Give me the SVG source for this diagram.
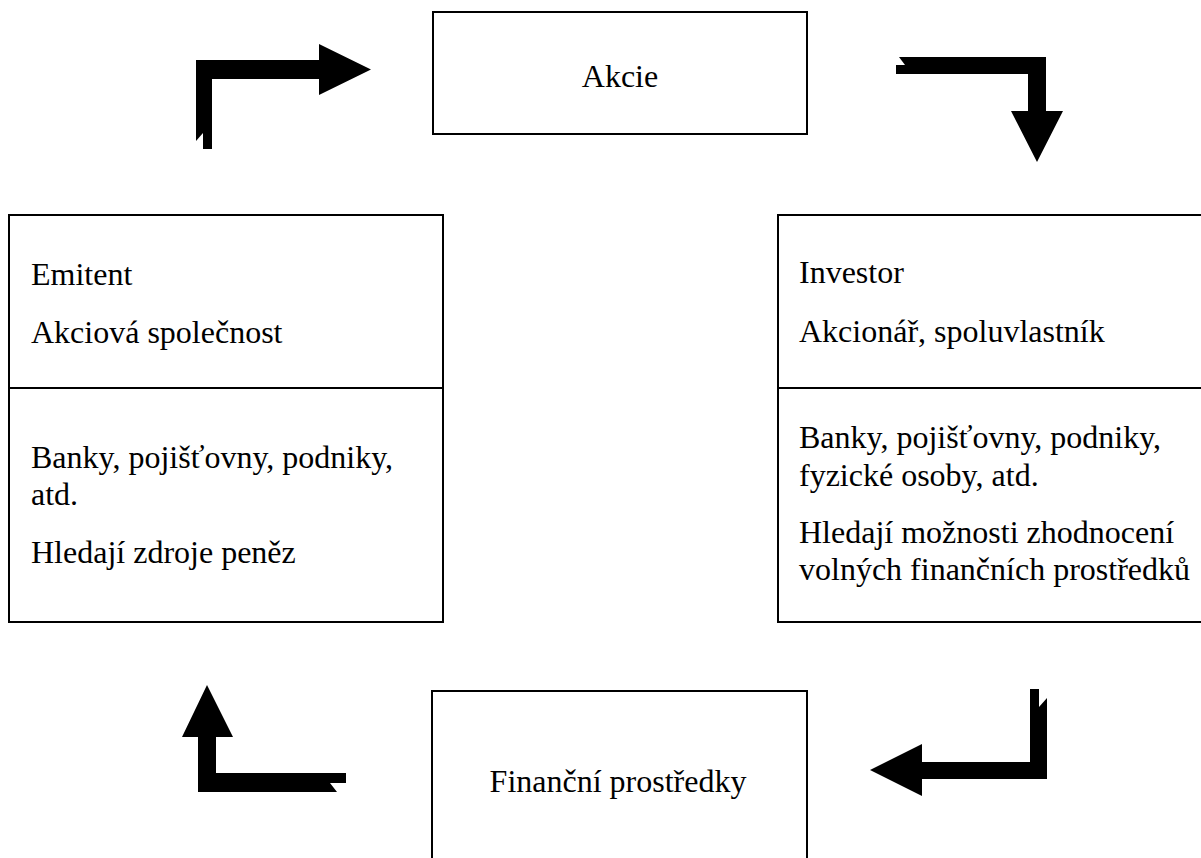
<svg xmlns="http://www.w3.org/2000/svg" width="1201" height="858" viewBox="0 0 1201 858">
<style>
.box{fill:#fff;stroke:#000;stroke-width:2}
.t{font-family:"Liberation Serif","Times New Roman",serif;font-size:32px;fill:#000}
.c{text-anchor:middle}
.arr{fill:#000;stroke:none}
</style>
<rect width="1201" height="858" fill="#fff"/>
<g id="akcie">
<rect class="box" x="433" y="12" width="374" height="122"/>
<text class="t c" x="620" y="87">Akcie</text>
</g>
<g id="emitent">
<rect class="box" x="9" y="215" width="434" height="407"/>
<line x1="9" y1="388" x2="443" y2="388" stroke="#000" stroke-width="2"/>
<text class="t" x="31" y="285">Emitent</text>
<text class="t" x="31" y="343">Akciová společnost</text>
<text class="t" x="31" y="468">Banky, pojišťovny, podniky,</text>
<text class="t" x="31" y="505">atd.</text>
<text class="t" x="31" y="563">Hledají zdroje peněz</text>
</g>
<g id="investor">
<rect class="box" x="778" y="215" width="440" height="407"/>
<line x1="778" y1="388" x2="1201" y2="388" stroke="#000" stroke-width="2"/>
<text class="t" x="799" y="283">Investor</text>
<text class="t" x="799" y="342">Akcionář, spoluvlastník</text>
<text class="t" x="799" y="448">Banky, pojišťovny, podniky,</text>
<text class="t" x="799" y="486">fyzické osoby, atd.</text>
<text class="t" x="799" y="543">Hledají možnosti zhodnocení</text>
<text class="t" x="799" y="580">volných finančních prostředků</text>
</g>
<g id="financni">
<rect class="box" x="432" y="691" width="375" height="190"/>
<text class="t c" x="618" y="792">Finanční prostředky</text>
</g>
<g id="connectors">
<polygon class="arr" points="196,60 319,60 319,44 371,69.5 319,95 319,79 212,79 212,149 203,149 203,133 196,141"/>
<polygon class="arr" points="896,65 905,65 899,57 1046,57 1046,111 1063,111 1037,162 1011,111 1028,111 1028,74 896,74"/>
<polygon class="arr" points="1030,689 1039,689 1039,707 1047,698 1047,779 922,779 922,796 870,770 922,744 922,762 1030,762"/>
<polygon class="arr" points="346,773 346,783 330,783 337,792 198,792 198,737 182,737 207,685 233,737 216,737 216,773"/>
</g>
</svg>
